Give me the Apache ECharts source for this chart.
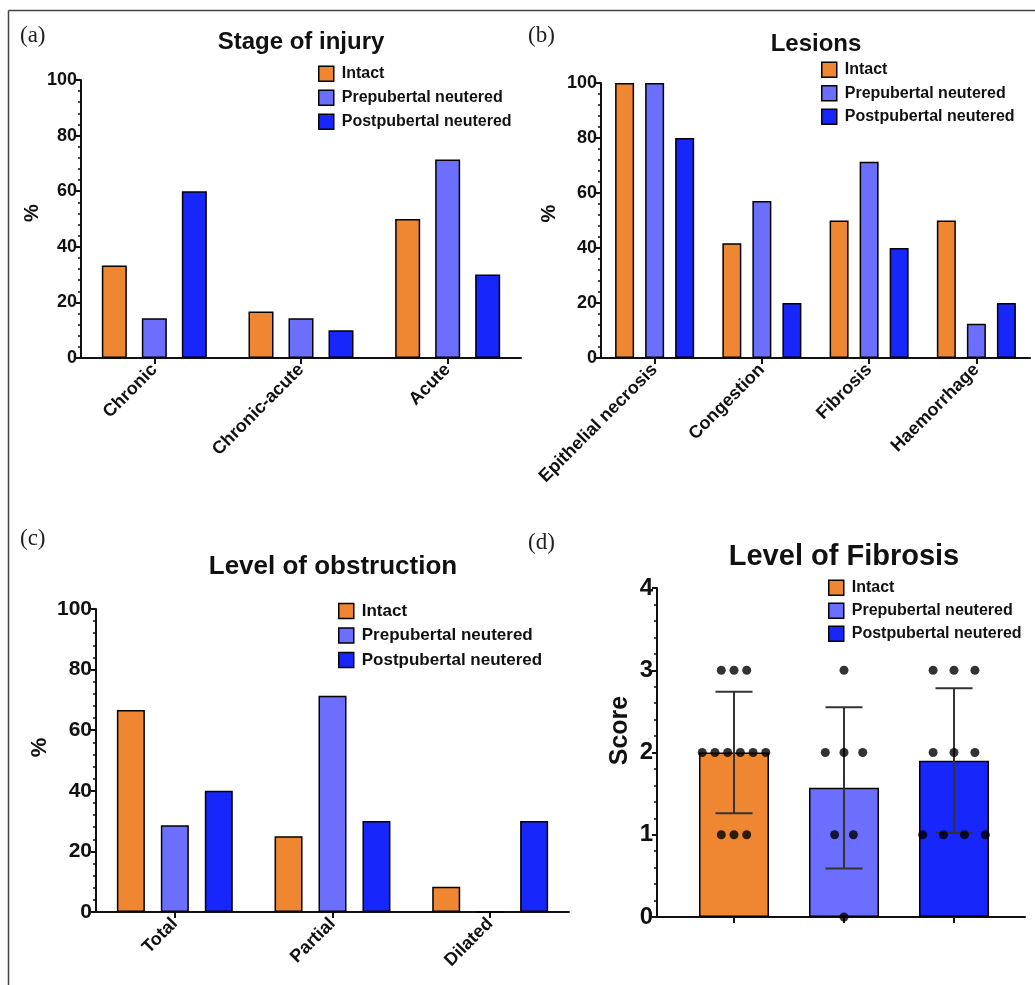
<!DOCTYPE html>
<html>
<head>
<meta charset="utf-8">
<script src="https://cdn.jsdelivr.net/npm/echarts@6/dist/echarts.min.js"></script>
<style>html,body{margin:0;padding:0;background:#fff}#c{width:1035px;height:985px}</style>
</head>
<body>
<div id="c"></div>
<script>
// ---------- DATA ----------
const seriesNames = ['Intact', 'Prepubertal neutered', 'Postpubertal neutered'];

const stageCategories = ['Chronic', 'Chronic-acute', 'Acute'];
const stageIntact = [33.3, 16.7, 50];
const stagePre = [14.3, 14.3, 71.4];
const stagePost = [60, 10, 30];

const lesionCategories = ['Epithelial necrosis', 'Congestion', 'Fibrosis', 'Haemorrhage'];
const lesionIntact = [100, 41.7, 50, 50];
const lesionPre = [100, 57.1, 71.4, 12.5];
const lesionPost = [80, 20, 40, 20];

const obstructionCategories = ['Total', 'Partial', 'Dilated'];
const obstructionIntact = [66.7, 25, 8.3];
const obstructionPre = [28.6, 71.4, 0];
const obstructionPost = [40, 30, 30];

const fibrosisMean = [2.0, 1.57, 1.9];
const fibrosisSD = [0.74, 0.98, 0.88];
const fibrosisIntactScores = [3, 3, 3, 2, 2, 2, 2, 2, 2, 1, 1, 1];
const fibrosisPreScores = [3, 2, 2, 2, 1, 1, 0];
const fibrosisPostScores = [3, 3, 3, 2, 2, 2, 1, 1, 1, 1];

const pctTicks = [0, 20, 40, 60, 80, 100];
const scoreTicks = [0, 1, 2, 3, 4];

// ---------- STYLE ----------
const colors = ['#EF8632', '#6C6EFE', '#1726FB'];
const FONT = 'Liberation Sans, Arial, sans-serif';
const ink = '#111';

function valueAxis(grid, ticks, labelSize, name, nameSize, nameGap, namePad, extra) {
  return Object.assign({
    type: 'value', gridIndex: grid,
    min: ticks[0], max: ticks[ticks.length - 1], interval: ticks[1] - ticks[0],
    name: name, nameLocation: 'middle', nameGap: nameGap,
    nameTextStyle: {fontFamily: FONT, fontWeight: 'bold', fontSize: nameSize, color: ink, padding: [0, 0, 0, namePad]},
    axisLine: {show: true, onZero: false, lineStyle: {color: ink, width: 2}},
    axisTick: {show: true, length: 5, lineStyle: {color: ink, width: 2}},
    minorTick: {show: true, splitNumber: 5, length: 3, lineStyle: {color: ink, width: 1.5}},
    splitLine: {show: false},
    axisLabel: {fontFamily: FONT, fontWeight: 'bold', fontSize: labelSize, color: ink, margin: 4}
  }, extra || {});
}
function catAxis(grid, data, labelSize, showLabel) {
  return {
    type: 'category', gridIndex: grid, data: data,
    axisLine: {show: true, onZero: false, lineStyle: {color: ink, width: 2}},
    axisTick: {show: true, alignWithLabel: true, length: 6, lineStyle: {color: ink, width: 2}},
    axisLabel: {show: showLabel, rotate: 45, interval: 0, margin: 9,
      fontFamily: FONT, fontWeight: 'bold', fontSize: labelSize, color: ink},
    splitLine: {show: false}
  };
}
function bars(axis, values, idx, width, gap) {
  return {
    type: 'bar', name: seriesNames[idx], xAxisIndex: axis, yAxisIndex: axis,
    data: values, barWidth: width, barGap: gap,
    itemStyle: {color: colors[idx], borderColor: '#000', borderWidth: 1.5},
    emphasis: {disabled: true}
  };
}
function legend(left, top, size, gap) {
  return {
    orient: 'vertical', left: left, top: top, padding: 0,
    itemWidth: 15, itemHeight: 15, itemGap: gap, icon: 'rect',
    selectedMode: false,
    data: seriesNames,
    itemStyle: {borderColor: '#000', borderWidth: 1.5},
    textStyle: {fontFamily: FONT, fontWeight: 'bold', fontSize: size, color: ink, padding: [0, 0, 0, 3], lineHeight: 15}
  };
}
function jitter(scores, gi, step) {
  const counts = {}, seen = {};
  scores.forEach(s => counts[s] = (counts[s] || 0) + 1);
  return scores.map(s => {
    const k = seen[s] = (seen[s] || 0) + 1;
    return [gi + (k - 1 - (counts[s] - 1) / 2) * step, s];
  });
}
function dots(scores, gi, step) {
  return {
    type: 'scatter', xAxisIndex: 4, yAxisIndex: 3, data: jitter(scores, gi, step),
    symbol: 'circle', symbolSize: 9, itemStyle: {color: '#000'}, z: 5, clip: false,
    emphasis: {disabled: true}, silent: true
  };
}

const option = {
  backgroundColor: '#fff',
  animation: false,
  grid: [
    {left: 81, top: 80, width: 440, height: 278},
    {left: 601, top: 83, width: 429, height: 275},
    {left: 96, top: 609, width: 473, height: 303},
    {left: 679, top: 588, width: 330, height: 329},
    {left: 657, top: 588, width: 368, height: 329}
  ],
  xAxis: [
    catAxis(0, stageCategories, 18, true),
    catAxis(1, lesionCategories, 18, true),
    catAxis(2, obstructionCategories, 18, true),
    Object.assign(catAxis(3, seriesNames, 14, false), {axisLine: {show: false}}),
    {type: 'value', gridIndex: 3, min: -0.5, max: 2.5, show: false},
    {type: 'value', gridIndex: 4, min: 0, max: 1, axisLine: {show: true, lineStyle: {color: ink, width: 2}},
      axisTick: {show: false}, axisLabel: {show: false}, splitLine: {show: false}}
  ],
  yAxis: [
    valueAxis(0, pctTicks, 18, '%', 20, 39, 12),
    valueAxis(1, pctTicks, 18, '%', 20, 42, 14),
    valueAxis(2, pctTicks, 21, '%', 22, 45, 26),
    valueAxis(3, scoreTicks, 24, 'Score', 25, 24, 44, {offset: 22}),
    {type: 'value', gridIndex: 4, min: 0, max: 1, show: false}
  ],
  legend: [
    legend(318, 65.5, 16, 7.5),
    legend(821, 61.5, 16, 7),
    legend(338, 602.5, 17, 7.5),
    legend(828, 579.5, 16, 6.5)
  ],
  series: [
    bars(0, stageIntact, 0, 25, '60%'),
    bars(0, stagePre, 1, 25, '60%'),
    bars(0, stagePost, 2, 25, '60%'),
    bars(1, lesionIntact, 0, 19, '58%'),
    bars(1, lesionPre, 1, 19, '58%'),
    bars(1, lesionPost, 2, 19, '58%'),
    bars(2, obstructionIntact, 0, 28, '57%'),
    bars(2, obstructionPre, 1, 28, '57%'),
    bars(2, obstructionPost, 2, 28, '57%'),
    Object.assign(bars(3, [fibrosisMean[0], '-', '-'], 0, 70), {stack: 'fib'}),
    Object.assign(bars(3, ['-', fibrosisMean[1], '-'], 1, 70), {stack: 'fib'}),
    Object.assign(bars(3, ['-', '-', fibrosisMean[2]], 2, 70), {stack: 'fib'}),
    {
      type: 'custom', xAxisIndex: 3, yAxisIndex: 3, z: 4, silent: true,
      data: fibrosisMean.map((m, i) => [i, m - fibrosisSD[i], m + fibrosisSD[i]]),
      renderItem: function (params, api) {
        const i = api.value(0);
        const lo = api.coord([i, api.value(1)]);
        const hi = api.coord([i, api.value(2)]);
        const cap = 18.5;
        const st = {stroke: '#333', lineWidth: 2};
        return {type: 'group', children: [
          {type: 'line', shape: {x1: lo[0], y1: lo[1], x2: hi[0], y2: hi[1]}, style: st},
          {type: 'line', shape: {x1: hi[0] - cap, y1: hi[1], x2: hi[0] + cap, y2: hi[1]}, style: st},
          {type: 'line', shape: {x1: lo[0] - cap, y1: lo[1], x2: lo[0] + cap, y2: lo[1]}, style: st}
        ]};
      }
    },
    dots(fibrosisIntactScores, 0, 0.1155),
    dots(fibrosisPreScores, 1, 0.17),
    dots(fibrosisPostScores, 2, 0.19)
  ],
  graphic: [
    {type: 'line', shape: {x1: 8.5, y1: 10.5, x2: 1035, y2: 10.5}, style: {stroke: '#444', lineWidth: 1.5}},
    {type: 'line', shape: {x1: 8.5, y1: 10.5, x2: 8.5, y2: 985}, style: {stroke: '#444', lineWidth: 1.5}},
    {type: 'text', x: 20, y: 36, style: {text: '(a)', font: '23px Liberation Serif, serif', fill: '#222', textVerticalAlign: 'middle'}},
    {type: 'text', x: 528, y: 36, style: {text: '(b)', font: '23px Liberation Serif, serif', fill: '#222', textVerticalAlign: 'middle'}},
    {type: 'text', x: 20, y: 539, style: {text: '(c)', font: '23px Liberation Serif, serif', fill: '#222', textVerticalAlign: 'middle'}},
    {type: 'text', x: 528, y: 543, style: {text: '(d)', font: '23px Liberation Serif, serif', fill: '#222', textVerticalAlign: 'middle'}},
    {type: 'text', x: 301, y: 42, style: {text: 'Stage of injury', font: 'bold 24px Liberation Sans, Arial, sans-serif', fill: ink, textAlign: 'center', textVerticalAlign: 'middle'}},
    {type: 'text', x: 816, y: 44, style: {text: 'Lesions', font: 'bold 24px Liberation Sans, Arial, sans-serif', fill: ink, textAlign: 'center', textVerticalAlign: 'middle'}},
    {type: 'text', x: 333, y: 567, style: {text: 'Level of obstruction', font: 'bold 26px Liberation Sans, Arial, sans-serif', fill: ink, textAlign: 'center', textVerticalAlign: 'middle'}},
    {type: 'text', x: 844, y: 557, style: {text: 'Level of Fibrosis', font: 'bold 29px Liberation Sans, Arial, sans-serif', fill: ink, textAlign: 'center', textVerticalAlign: 'middle'}}
  ]
};
echarts.init(document.getElementById('c'), null, {renderer: 'canvas'}).setOption(option);
</script>
</body>
</html>
